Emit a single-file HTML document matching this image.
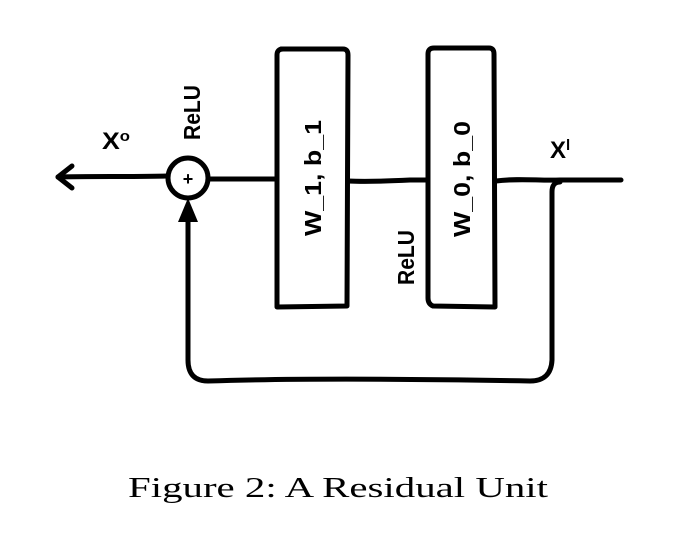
<!DOCTYPE html>
<html><head><style>html,body{margin:0;padding:0;background:#fff;}svg{display:block}
.s{font-family:"Liberation Sans",Arial,sans-serif;font-weight:bold;}
.c{font-family:"Liberation Serif","Times New Roman",serif;}
</style></head>
<body>
<svg width="688" height="546" viewBox="0 0 688 546" xmlns="http://www.w3.org/2000/svg">
<g fill="none" stroke="#000" stroke-width="5" stroke-linecap="round" stroke-linejoin="round">
<path d="M58 177 C90 176,130 177,167 176"/>
<path d="M72 166 L58 177 L72 188"/>
<circle cx="188" cy="178" r="20"/>
<path d="M209 179 L276 179"/>
<path d="M281 49 L343 49 Q348 49 348 55 L347 306 L277 307 L277 55 Q277 49 283 49 Z"/>
<path d="M348 181 C370 182,390 181,410 180 L427 180"/>
<path d="M434 48 L489 48 Q494 48 494 54 L495 307 L433 306 Q428 304 428 298 L428 54 Q428 48 434 48 Z"/>
<path d="M496 181 C520 178,540 181,560 180 L621 180"/>
<path d="M560 182 Q552 182 552 192 L552 360 Q551 381 530 381 C420 379,300 378,208 381 Q188 381 188 360 L188 214"/>
</g>
<path d="M188 198 L178 222 L198 222 Z" fill="#000"/>
<text x="188" y="185" class="s" font-size="18" text-anchor="middle">+</text>
<g class="s" fill="#000">
<text x="102" y="149" font-size="24" textLength="28" lengthAdjust="spacingAndGlyphs">X<tspan font-size="15" dy="-8">o</tspan></text>
<text x="550" y="158" font-size="24">X<tspan font-size="15" dy="-8">l</tspan></text>
<text transform="translate(200,140) rotate(-90)" font-size="23" textLength="55" lengthAdjust="spacingAndGlyphs">ReLU</text>
<text transform="translate(414,285) rotate(-90)" font-size="23" textLength="55" lengthAdjust="spacingAndGlyphs">ReLU</text>
<text transform="translate(321,236) rotate(-90)" font-size="23" textLength="116" lengthAdjust="spacingAndGlyphs">W_1, b_1</text>
<text transform="translate(470,237) rotate(-90)" font-size="23" textLength="116" lengthAdjust="spacingAndGlyphs">W_0, b_0</text>
</g>
<text x="128" y="497" class="c" font-size="29" textLength="420" lengthAdjust="spacingAndGlyphs">Figure 2: A Residual Unit</text>
</svg>
</body></html>
